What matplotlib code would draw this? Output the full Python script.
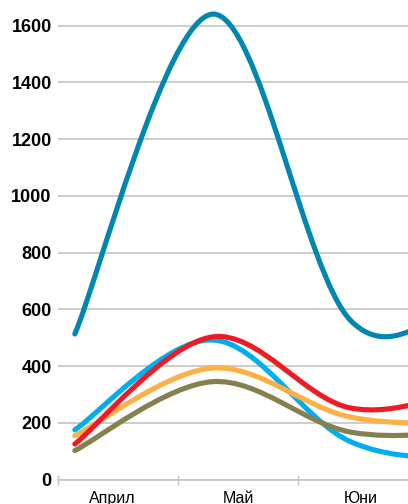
import numpy as np
import matplotlib.pyplot as plt
from matplotlib.path import Path
from matplotlib.patches import PathPatch

# data (x in month-band units: 0 = start of April band)
x_pos = [0.14, 1.29, 2.44, 3.59, 4.74]
months = ['Април', 'Май', 'Юни']
month_pos = [0.45, 1.5, 2.52]

s_darkblue = [513, 1641, 560, 660, 700]
s_lightblue = [175, 492, 133, 70, 60]
s_orange = [154, 393, 220, 200, 200]
s_olive = [102, 345, 167, 172, 175]
s_red = [125, 503, 252, 320, 330]

colors = {'lightblue': '#00AEEF', 'orange': '#FDB045', 'olive': '#85804F',
          'red': '#ED1C24', 'darkblue': '#0086B3'}


def smooth_path(xs, ys):
    # catmull-rom style smoothed line as cubic bezier segments
    pts = np.column_stack([xs, ys]).astype(float)
    n = len(pts)
    verts = [tuple(pts[0])]
    codes = [Path.MOVETO]
    for i in range(n - 1):
        p_prev = pts[max(i - 1, 0)]
        p0 = pts[i]
        p1 = pts[i + 1]
        p_next = pts[min(i + 2, n - 1)]
        c1 = p0 + (p1 - p_prev) / 6
        c2 = p1 - (p_next - p0) / 6
        verts += [tuple(c1), tuple(c2), tuple(p1)]
        codes += [Path.CURVE4] * 3
    return Path(verts, codes)


fig = plt.figure(figsize=(4.08, 5.04), dpi=100)
ax = fig.add_axes([58 / 408, 24.5 / 504, 1 - 58 / 408, 479.5 / 504])
ax.set_xlim(0, 350 / 120)
ax.set_ylim(0, 479.5 * 3.526)

for name, s in [('lightblue', s_lightblue), ('orange', s_orange), ('olive', s_olive),
                ('red', s_red), ('darkblue', s_darkblue)]:
    p = PathPatch(smooth_path(x_pos, s), facecolor='none', edgecolor=colors[name],
                  lw=3.7, capstyle='round', joinstyle='round', zorder=3)
    ax.add_patch(p)

ax.set_yticks(range(0, 1601, 200))
ax.yaxis.grid(True, color='#C4C4C4', lw=1.2)
ax.set_axisbelow(True)
for side in ['left', 'right', 'top']:
    ax.spines[side].set_visible(False)
ax.spines['bottom'].set_color('#C4C4C4')
ax.spines['bottom'].set_linewidth(1.2)

ax.set_xticks([0, 1, 2])
ax.set_xticklabels([])
ax.tick_params(axis='x', which='major', direction='inout', length=7, color='#C4C4C4', width=1)
ax.set_xticks(month_pos, minor=True)
ax.set_xticklabels(months, minor=True, fontsize=11.5, family='Liberation Sans')
ax.tick_params(axis='x', which='minor', length=0, pad=8)
ax.tick_params(axis='y', length=0, pad=4.5)
for lab in ax.get_yticklabels():
    lab.set_fontsize(13)
    lab.set_fontweight('bold')
    lab.set_family('Liberation Sans')

fig.savefig('out.png', dpi=100)
